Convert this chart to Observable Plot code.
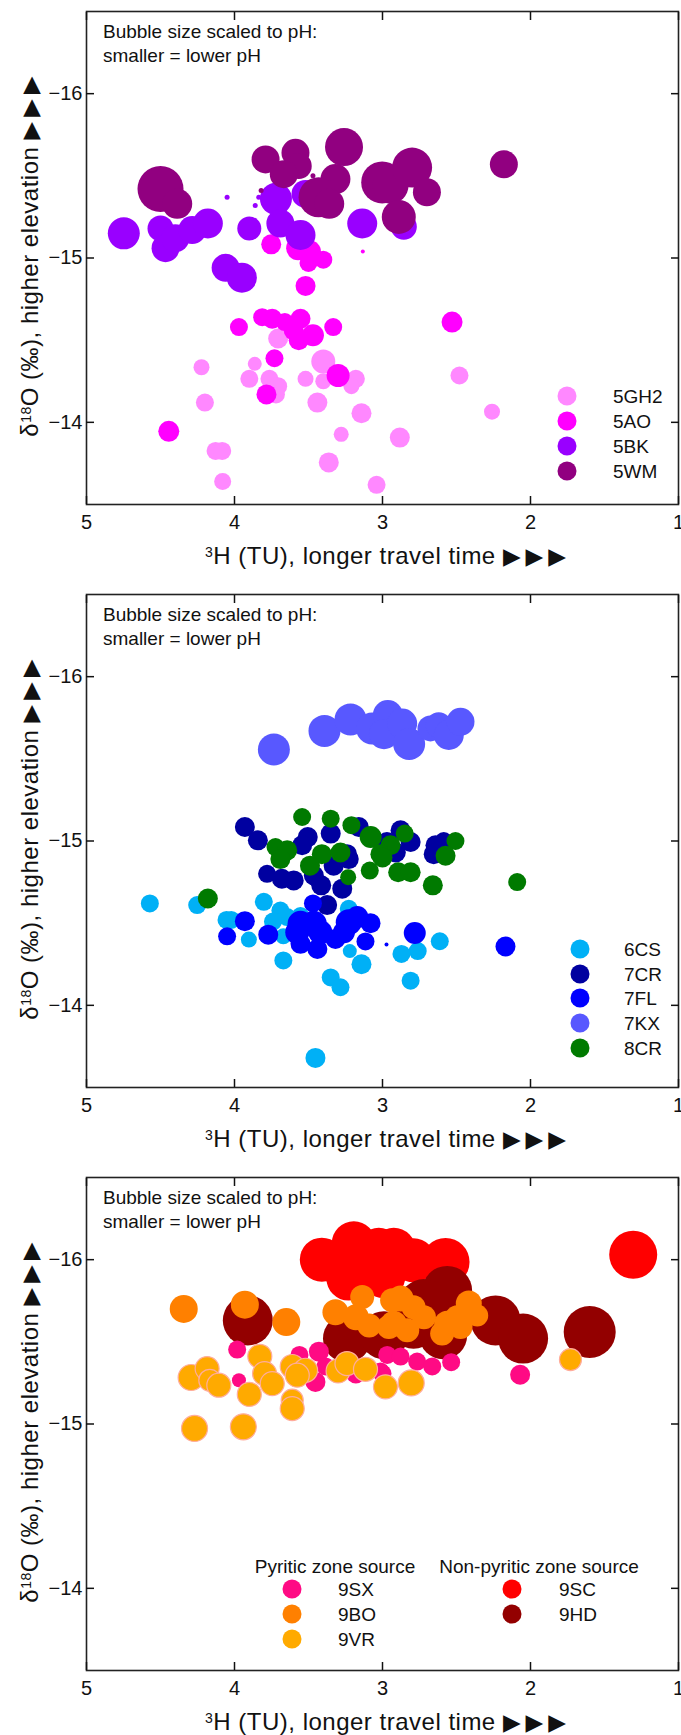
<!DOCTYPE html>
<html><head><meta charset="utf-8">
<script src="https://cdn.jsdelivr.net/npm/d3@7"></script>
<script src="https://cdn.jsdelivr.net/npm/@observablehq/plot@0.6"></script>
<style>
html,body{margin:0;padding:0;overflow:hidden;background:#fff;}
body{width:681px;font-family:"Liberation Sans",Arial,Helvetica,sans-serif;color:#111;}
.panel{position:relative;width:681px;height:583px;overflow:hidden;}
.panel svg{position:absolute;left:0;top:0;}
.note{position:absolute;left:103px;top:20px;font-size:19px;line-height:24px;white-space:nowrap;}
.ytitle{position:absolute;left:30px;top:254px;transform:translate(-50%,-50%) rotate(-90deg);font-size:24px;line-height:24px;letter-spacing:0.5px;white-space:nowrap;}
.xtitle{position:absolute;left:388px;top:544px;transform:translateX(-50%);font-size:24px;line-height:24px;letter-spacing:0.5px;white-space:nowrap;}
.arr{font-family:"DejaVu Sans",sans-serif;font-size:23px;letter-spacing:5px;}
sup{font-size:14px;line-height:0;vertical-align:7px;}
.lg-dot{position:absolute;width:19px;height:19px;border-radius:50%;transform:translate(-50%,-50%);}
.lg-txt{position:absolute;font-size:19px;line-height:19px;transform:translateY(-50%);white-space:nowrap;}
.lg-head{position:absolute;font-size:19px;line-height:19px;transform:translate(-50%,-50%);white-space:nowrap;}
</style>
</head><body>
<div class="panel" id="panel1"></div>
<div class="panel" id="panel2"></div>
<div class="panel" id="panel3"></div>
<script>
// ---- axis ticks ----
const xTicks = [5, 4, 3, 2, 1];
const yTicks = [-16, -15, -14];

// ---- each point: [tritium TU, d18O permil, pH] ----
// Panel 1
const sites1 = ["5GH2", "5AO", "5BK", "5WM"];
const colors1 = ["#ff88ff", "#ff00ff", "#9900ff", "#910080"];
const p5GH2 = [[3.705,-14.51,4.6],[4.223,-14.335,4.2],[3.863,-14.356,4.0],[3.90,-14.265,4.4],[3.764,-14.265,4.4],[3.705,-14.22,4.4],[3.72,-14.17,4.4],[3.52,-14.265,4.2],[3.40,-14.37,5.0],[3.40,-14.25,4.2],[3.18,-14.265,4.4],[3.21,-14.22,4.2],[3.44,-14.12,4.6],[2.48,-14.285,4.4],[4.20,-14.12,4.4],[3.142,-14.055,4.6],[2.26,-14.065,4.2],[3.279,-13.927,4.1],[2.883,-13.907,4.6],[4.128,-13.826,4.4],[4.083,-13.826,4.4],[3.363,-13.756,4.6],[4.08,-13.64,4.3],[3.04,-13.62,4.4]];
const p5AO = [[3.752,-15.083,4.6],[3.57,-15.06,5.0],[3.49,-15.04,4.8],[3.50,-14.97,4.4],[3.40,-14.99,4.4],[3.52,-14.83,4.6],[3.133,-15.04,3.0],[3.97,-14.58,4.4],[3.813,-14.64,4.4],[3.745,-14.63,4.6],[3.66,-14.61,4.4],[3.554,-14.63,4.6],[3.60,-14.56,4.6],[3.566,-14.50,4.6],[3.47,-14.53,4.8],[3.333,-14.58,4.4],[2.53,-14.61,4.7],[3.73,-14.39,4.4],[3.30,-14.285,4.9],[3.784,-14.17,4.6],[4.444,-13.945,4.7]];
const p5BK = [[4.748,-15.15,5.8],[4.50,-15.18,5.2],[4.466,-15.06,5.4],[4.40,-15.12,5.4],[4.286,-15.17,5.4],[4.18,-15.21,5.6],[3.90,-15.18,5.0],[4.06,-14.94,5.4],[3.95,-14.88,5.6],[3.72,-15.36,5.8],[3.69,-15.21,5.4],[3.554,-15.14,5.6],[3.52,-15.39,5.4],[3.137,-15.21,5.6],[2.856,-15.19,5.2],[4.05,-15.37,3.1],[3.86,-15.32,3.1],[3.836,-15.37,3.1]];
const p5WM = [[4.50,-15.42,7.2],[4.387,-15.33,5.6],[3.79,-15.60,5.4],[3.588,-15.64,5.4],[3.566,-15.56,5.2],[3.667,-15.51,5.4],[3.26,-15.675,6.4],[3.318,-15.48,5.6],[3.432,-15.37,6.6],[3.36,-15.33,5.6],[3.002,-15.46,6.8],[2.946,-15.44,6.2],[2.80,-15.55,6.6],[2.70,-15.40,5.4],[2.89,-15.25,6.0],[2.18,-15.57,5.4],[3.47,-15.50,3.1],[3.82,-15.41,3.1]];

// Panel 2
const sites2 = ["6CS", "7CR", "7FL", "7KX", "8CR"];
const colors2 = ["#00b0f6", "#0000a0", "#0000ff", "#5858ff", "#007a00"];
const p6CS = [[4.572,-14.62,4.4],[4.252,-14.61,4.4],[3.802,-14.63,4.4],[4.054,-14.52,4.4],[4.022,-14.52,4.4],[3.903,-14.40,4.2],[3.69,-14.577,4.4],[3.644,-14.537,4.4],[3.74,-14.51,4.4],[3.67,-14.42,4.2],[3.554,-14.543,4.4],[3.228,-14.587,4.4],[3.67,-14.273,4.4],[3.221,-14.33,4.0],[3.142,-14.25,4.6],[3.35,-14.17,4.4],[3.284,-14.11,4.4],[2.872,-14.313,4.4],[2.762,-14.33,4.4],[2.613,-14.39,4.4],[2.81,-14.15,4.4],[3.453,-13.68,4.6]];
const p7CR = [[3.93,-15.085,4.6],[3.842,-15.004,4.6],[3.35,-15.045,4.6],[3.505,-15.024,4.6],[3.543,-14.974,4.6],[3.16,-15.085,4.6],[2.878,-15.065,4.6],[2.81,-14.994,4.6],[2.642,-14.974,4.6],[2.586,-15.0,4.4],[2.97,-14.994,4.6],[3.24,-14.92,4.6],[2.91,-14.93,4.6],[3.78,-14.80,4.4],[3.68,-14.77,4.6],[3.60,-14.76,4.6],[3.33,-14.85,4.6],[3.228,-14.89,4.6],[3.464,-14.79,4.6],[3.414,-14.73,4.6],[3.272,-14.71,4.6],[3.374,-14.61,4.6],[2.654,-14.92,4.6]];
const p7FL = [[3.93,-14.512,4.6],[4.05,-14.42,4.4],[3.772,-14.43,4.6],[3.47,-14.62,4.4],[3.554,-14.496,5.2],[3.576,-14.445,5.0],[3.464,-14.496,5.2],[3.42,-14.445,5.0],[3.554,-14.374,4.6],[3.44,-14.343,4.6],[3.318,-14.404,4.6],[3.228,-14.506,5.2],[3.17,-14.537,4.8],[3.081,-14.50,4.6],[3.115,-14.389,4.4],[3.26,-14.445,4.8],[2.782,-14.44,4.8],[2.169,-14.358,4.6],[2.973,-14.37,3.0]];
const p7KX = [[3.734,-15.557,5.8],[3.392,-15.67,5.8],[3.216,-15.74,5.8],[3.07,-15.685,5.8],[2.964,-15.766,5.6],[2.99,-15.65,5.6],[2.867,-15.715,5.6],[2.82,-15.59,5.8],[2.676,-15.685,5.2],[2.62,-15.705,5.2],[2.552,-15.645,5.6],[2.473,-15.725,5.4]];
const p8CR = [[3.543,-15.146,4.4],[3.35,-15.136,4.4],[3.21,-15.096,4.4],[3.08,-15.024,4.8],[2.85,-15.045,4.4],[2.507,-15.0,4.4],[3.723,-14.963,4.4],[3.644,-14.943,4.6],[3.41,-14.92,4.6],[3.284,-14.93,4.6],[2.946,-14.974,4.6],[3.014,-14.92,4.6],[2.574,-14.91,4.6],[3.69,-14.89,4.6],[3.49,-14.85,4.6],[3.086,-14.82,4.4],[3.0,-14.90,4.6],[2.894,-14.81,4.6],[2.81,-14.81,4.6],[3.232,-14.78,4.2],[2.66,-14.73,4.6],[2.09,-14.75,4.4],[4.18,-14.65,4.6]];

// Panel 3
const sites3Pyritic = ["9SX", "9BO", "9VR"];
const colors3Pyritic = ["#ff0a84", "#ff8000", "#ffaa00"];
const sites3NonPyritic = ["9SC", "9HD"];
const colors3NonPyritic = ["#ff0000", "#930000"];
const p9SC = [[3.41,-16.0,7.0],[3.194,-16.10,7.0],[3.25,-15.935,7.0],[3.025,-16.06,7.0],[2.924,-16.06,7.0],[2.99,-15.976,7.0],[2.79,-15.996,7.0],[2.574,-15.986,7.4],[3.23,-15.885,7.0],[2.993,-15.90,7.0],[1.306,-16.03,7.4]];
const p9HD = [[3.91,-15.63,7.6],[3.24,-15.52,7.4],[2.563,-15.81,7.6],[2.72,-15.73,7.6],[2.236,-15.63,7.6],[2.05,-15.52,7.6],[1.60,-15.56,7.8],[2.99,-15.54,7.4],[2.79,-15.61,7.6],[2.59,-15.54,7.4]];
const p9SX = [[3.982,-15.453,4.4],[3.97,-15.266,4.0],[3.561,-15.42,4.4],[3.43,-15.44,4.6],[3.453,-15.256,4.6],[3.385,-15.35,4.4],[3.18,-15.307,4.6],[2.968,-15.42,4.4],[3.0,-15.307,4.4],[2.878,-15.41,4.4],[2.766,-15.38,4.4],[2.664,-15.35,4.4],[2.536,-15.376,4.4],[2.07,-15.30,4.6],[3.014,-15.32,4.4]];
const p9BO = [[4.343,-15.70,5.4],[3.93,-15.726,5.4],[3.65,-15.62,5.4],[3.318,-15.68,5.2],[3.137,-15.773,5.0],[3.18,-15.65,5.2],[3.09,-15.60,5.0],[2.935,-15.753,5.0],[2.957,-15.59,5.0],[2.878,-15.763,5.2],[2.79,-15.71,5.0],[2.72,-15.65,5.0],[2.924,-15.61,5.2],[2.833,-15.57,5.0],[2.563,-15.61,5.2],[2.597,-15.55,5.0],[2.495,-15.65,5.0],[2.417,-15.733,5.2],[2.36,-15.66,4.8],[2.473,-15.59,5.0]];
const p9VR = [[4.293,-15.283,5.2],[4.185,-15.337,5.0],[4.167,-15.266,4.8],[4.106,-15.236,5.0],[3.829,-15.412,5.0],[3.797,-15.307,5.0],[3.745,-15.246,5.0],[3.90,-15.18,5.0],[3.61,-15.35,5.0],[3.52,-15.327,5.0],[3.576,-15.297,5.0],[3.61,-15.145,4.8],[3.61,-15.094,5.0],[3.30,-15.323,5.0],[3.24,-15.368,5.0],[3.115,-15.333,5.0],[2.98,-15.226,5.0],[2.806,-15.25,5.2],[1.73,-15.392,4.8],[4.27,-14.973,5.2],[3.94,-14.983,5.2]];

const FONT = '"Liberation Sans", Arial, Helvetica, sans-serif';
const minus = d => (d < 0 ? "\u2212" + Math.abs(d) : String(d));

function buildPanel(el, groups, legendFn) {
  const dotMarks = groups.map(g => {
    const opts = {x: d => d[0], y: d => d[1], r: d => d[2], fill: g.color, sort: null};
    if (g.stroke) { opts.stroke = g.stroke; opts.strokeWidth = 1.2; }
    return Plot.dot(g.data, opts);
  });
  const svg = Plot.plot({
    width: 681, height: 583,
    marginTop: 11, marginBottom: 79, marginLeft: 86, marginRight: 3,
    style: {fontFamily: FONT, background: "transparent", color: "#111"},
    x: {domain: [5, 1], label: null},
    y: {domain: [-13.5, -16.5], label: null},
    r: {type: "linear", domain: [2.6, 7.8], range: [0, 26]},
    marks: [
      ...dotMarks,
      Plot.frame({stroke: "#222", strokeWidth: 1.6}),
      Plot.axisX({anchor: "bottom", ticks: xTicks, tickSize: 0, tickPadding: 10, fontSize: 20, label: null, tickFormat: d => String(d)}),
      Plot.axisX({anchor: "bottom", ticks: xTicks, tickSize: 8, text: null, label: null, dy: -8, strokeWidth: 1.5}),
      Plot.axisX({anchor: "top", ticks: xTicks, tickSize: 8, text: null, label: null, dy: 8, strokeWidth: 1.5}),
      Plot.axisY({anchor: "left", ticks: yTicks, tickSize: 0, tickPadding: 4, fontSize: 20, label: null, tickFormat: minus}),
      Plot.axisY({anchor: "left", ticks: yTicks, tickSize: 8, text: null, label: null, dx: 8, strokeWidth: 1.5}),
      Plot.axisY({anchor: "right", ticks: yTicks, tickSize: 8, text: null, label: null, dx: -8, strokeWidth: 1.5})
    ]
  });
  el.appendChild(svg);
  el.insertAdjacentHTML("beforeend",
    '<div class="note">Bubble size scaled to pH:<br>smaller = lower pH</div>' +
    '<div class="ytitle">\u03b4<sup>18</sup>O (\u2030), higher elevation <span class="arr">\u25b6\u25b6\u25b6</span></div>' +
    '<div class="xtitle"><sup>3</sup>H (TU), longer travel time <span class="arr">\u25b6\u25b6\u25b6</span></div>');
  legendFn(el);
}

function legendItem(el, name, color, cx, cy, tx) {
  el.insertAdjacentHTML("beforeend",
    `<div class="lg-dot" style="left:${cx}px;top:${cy}px;background:${color}"></div>` +
    `<div class="lg-txt" style="left:${tx}px;top:${cy}px">${name}</div>`);
}

buildPanel(document.getElementById("panel1"),
  [p5GH2, p5AO, p5BK, p5WM].map((data, i) => ({data, color: colors1[i]})),
  el => sites1.forEach((s, i) => legendItem(el, s, colors1[i], 567, 396 + i * 25, 613)));

buildPanel(document.getElementById("panel2"),
  [p6CS, p7CR, p7FL, p7KX, p8CR].map((data, i) => ({data, color: colors2[i]})),
  el => sites2.forEach((s, i) => legendItem(el, s, colors2[i], 580, 366 + i * 24.7, 624)));

buildPanel(document.getElementById("panel3"),
  [
    {data: p9SC, color: colors3NonPyritic[0]},
    {data: p9HD, color: colors3NonPyritic[1]},
    {data: p9SX, color: colors3Pyritic[0]},
    {data: p9BO, color: colors3Pyritic[1]},
    {data: p9VR, color: colors3Pyritic[2], stroke: "#ffac9c"}
  ],
  el => {
    el.insertAdjacentHTML("beforeend",
      '<div class="lg-head" style="left:335px;top:400px">Pyritic zone source</div>' +
      '<div class="lg-head" style="left:539px;top:400px">Non-pyritic zone source</div>');
    sites3Pyritic.forEach((s, i) => legendItem(el, s, colors3Pyritic[i], 292, 422.5 + i * 25.2, 338));
    sites3NonPyritic.forEach((s, i) => legendItem(el, s, colors3NonPyritic[i], 512, 422.5 + i * 25.2, 559));
  });
</script>
</body></html>
